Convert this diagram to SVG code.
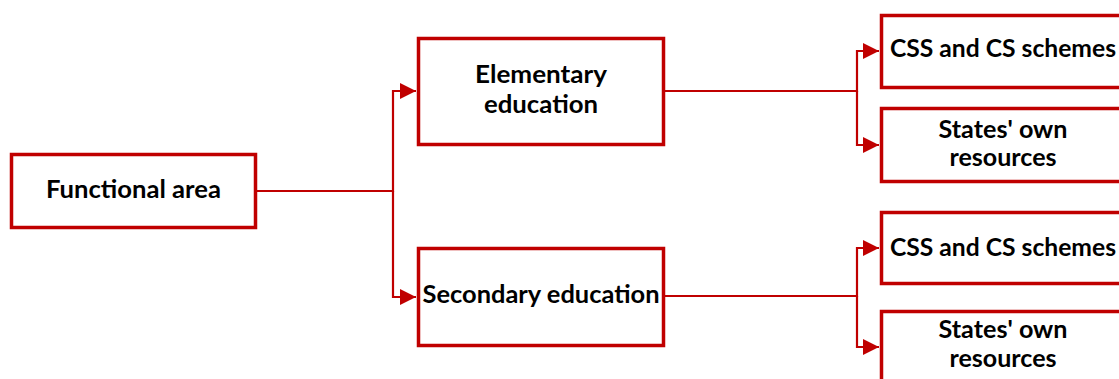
<svg xmlns="http://www.w3.org/2000/svg" width="1119" height="379" viewBox="0 0 1119 379">
<style>
.box{fill:#fff;stroke:#C00000;stroke-width:3.5}
.t{font-family:Lato,"Liberation Sans",sans-serif;font-weight:bold;font-size:24px;fill:#000;text-anchor:middle}
.c{fill:none;stroke:#C00000;stroke-width:2.2}
</style>
<defs>
<marker id="ah" markerUnits="userSpaceOnUse" markerWidth="17" markerHeight="17" refX="16" refY="8.5" orient="auto">
<path d="M0,0.5 L16,8.5 L0,16.5 Z" fill="#C00000"/>
</marker>
</defs>
<rect width="1119" height="379" fill="#fff"/>
<g id="connectors">
<path class="c" d="M257,191 H393 V91 H416" marker-end="url(#ah)"/>
<path class="c" d="M393,191 V297 H416" marker-end="url(#ah)"/>
<path class="c" d="M665,91 H857 V51 H879" marker-end="url(#ah)"/>
<path class="c" d="M857,91 V145 H879" marker-end="url(#ah)"/>
<path class="c" d="M665,296 H857 V248 H879" marker-end="url(#ah)"/>
<path class="c" d="M857,296 V347 H879" marker-end="url(#ah)"/>
</g>
<g id="functional-area">
<rect class="box" x="11.5" y="154.5" width="244" height="73"/>
<text class="t" x="133.5" y="198" textLength="175" lengthAdjust="spacingAndGlyphs">Functional area</text>
</g>
<g id="elementary">
<rect class="box" x="418.5" y="38.5" width="245" height="106"/>
<text class="t" x="541" y="83" textLength="132" lengthAdjust="spacingAndGlyphs">Elementary</text>
<text class="t" x="541" y="113" textLength="114" lengthAdjust="spacingAndGlyphs">education</text>
</g>
<g id="secondary">
<rect class="box" x="418.5" y="248.5" width="245" height="97"/>
<text class="t" x="541" y="303" textLength="237" lengthAdjust="spacingAndGlyphs">Secondary education</text>
</g>
<g id="css1">
<rect class="box" x="881.5" y="15.5" width="245" height="72"/>
<text class="t" x="1003" y="57" textLength="226" lengthAdjust="spacingAndGlyphs">CSS and CS schemes</text>
</g>
<g id="states1">
<rect class="box" x="881.5" y="108.5" width="245" height="73"/>
<text class="t" x="1003" y="138" textLength="129" lengthAdjust="spacingAndGlyphs">States' own</text>
<text class="t" x="1003" y="166" textLength="107" lengthAdjust="spacingAndGlyphs">resources</text>
</g>
<g id="css2">
<rect class="box" x="881.5" y="212.5" width="245" height="71"/>
<text class="t" x="1003" y="256" textLength="226" lengthAdjust="spacingAndGlyphs">CSS and CS schemes</text>
</g>
<g id="states2">
<rect class="box" x="881.5" y="311.5" width="245" height="80"/>
<text class="t" x="1003" y="338" textLength="129" lengthAdjust="spacingAndGlyphs">States' own</text>
<text class="t" x="1003" y="367" textLength="107" lengthAdjust="spacingAndGlyphs">resources</text>
</g>
</svg>
